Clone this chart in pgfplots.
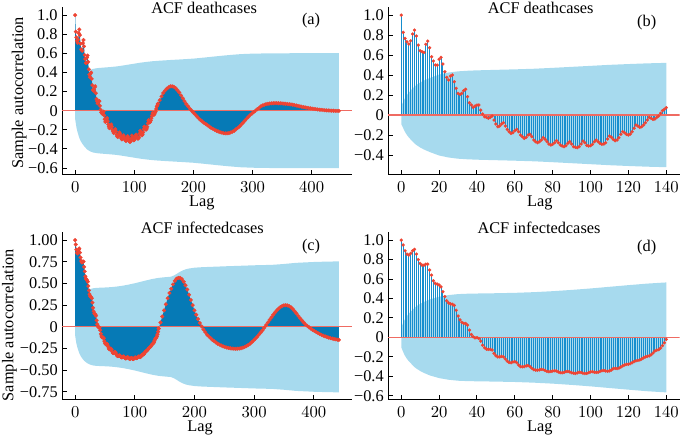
\documentclass[border=0pt]{standalone}
\usepackage{fontspec}
\setmainfont{Liberation Serif}
\usepackage{pgfplots}
\usepackage{pgfplotstable}
\pgfplotsset{compat=1.18}
\definecolor{bandc}{RGB}{167,218,238}
\definecolor{stemc}{RGB}{22,142,206}
\definecolor{darkc}{RGB}{6,122,182}
\definecolor{mkc}{RGB}{238,68,51}
\definecolor{zeroc}{RGB}{239,107,98}

\pgfplotstableread[row sep=\\]{lag acf\\
0 1.0\\1 0.827\\2 0.767\\3 0.733\\4 0.71\\5 0.743\\6 0.81\\7 0.85\\8 0.79\\9 0.70\\10 0.643\\11 0.633\\12 0.627\\13 0.707\\14 0.74\\15 0.673\\16 0.583\\17 0.54\\18 0.50\\19 0.50\\20 0.557\\21 0.577\\22 0.51\\23 0.433\\24 0.377\\25 0.35\\26 0.39\\27 0.40\\28 0.333\\29 0.267\\30 0.217\\31 0.207\\32 0.217\\33 0.243\\34 0.257\\35 0.183\\36 0.123\\37 0.10\\38 0.077\\39 0.09\\40 0.10\\41 0.10\\42 0.05\\43 0.01\\44 -0.017\\45 -0.023\\46 -0.033\\47 -0.023\\48 -0.01\\49 -0.05\\50 -0.09\\51 -0.117\\52 -0.11\\53 -0.09\\54 -0.077\\55 -0.11\\56 -0.143\\57 -0.167\\58 -0.183\\59 -0.177\\60 -0.157\\61 -0.143\\62 -0.167\\63 -0.2\\64 -0.217\\65 -0.233\\66 -0.223\\67 -0.2\\68 -0.193\\69 -0.217\\70 -0.25\\71 -0.267\\72 -0.277\\73 -0.267\\74 -0.25\\75 -0.227\\76 -0.243\\77 -0.267\\78 -0.29\\79 -0.30\\80 -0.293\\81 -0.277\\82 -0.257\\83 -0.277\\84 -0.30\\85 -0.31\\86 -0.317\\87 -0.307\\88 -0.283\\89 -0.267\\90 -0.29\\91 -0.317\\92 -0.323\\93 -0.327\\94 -0.317\\95 -0.29\\96 -0.26\\97 -0.277\\98 -0.303\\99 -0.31\\100 -0.307\\101 -0.293\\102 -0.267\\103 -0.25\\104 -0.267\\105 -0.283\\106 -0.293\\107 -0.29\\108 -0.277\\109 -0.24\\110 -0.21\\111 -0.223\\112 -0.243\\113 -0.257\\114 -0.25\\115 -0.227\\116 -0.193\\117 -0.167\\118 -0.177\\119 -0.193\\120 -0.2\\121 -0.19\\122 -0.167\\123 -0.133\\124 -0.10\\125 -0.11\\126 -0.123\\127 -0.117\\128 -0.10\\129 -0.077\\130 -0.05\\131 -0.023\\132 -0.033\\133 -0.043\\134 -0.04\\135 -0.023\\136 -0.01\\137 0.017\\138 0.043\\139 0.057\\140 0.073\\
}\deathA

\pgfplotstableread[row sep=\\]{lag acf\\
140 0.073\\143 0.11\\146 0.15\\149 0.185\\152 0.21\\155 0.23\\158 0.245\\161 0.255\\164 0.255\\167 0.25\\170 0.235\\173 0.215\\176 0.19\\179 0.16\\182 0.13\\185 0.10\\188 0.07\\191 0.045\\194 0.02\\197 0.0\\200 -0.02\\203 -0.04\\206 -0.06\\209 -0.08\\212 -0.097\\215 -0.113\\218 -0.128\\221 -0.14\\224 -0.153\\227 -0.167\\230 -0.18\\233 -0.19\\236 -0.2\\239 -0.21\\242 -0.218\\245 -0.225\\248 -0.23\\251 -0.235\\254 -0.237\\257 -0.237\\260 -0.235\\263 -0.228\\266 -0.22\\269 -0.21\\272 -0.195\\275 -0.18\\278 -0.165\\281 -0.145\\284 -0.125\\287 -0.105\\290 -0.085\\293 -0.065\\296 -0.045\\299 -0.03\\302 -0.015\\305 0.0\\308 0.015\\311 0.03\\314 0.045\\317 0.055\\320 0.062\\323 0.068\\326 0.072\\329 0.075\\332 0.077\\335 0.078\\338 0.079\\341 0.079\\344 0.078\\347 0.077\\350 0.076\\353 0.074\\356 0.072\\359 0.07\\362 0.068\\365 0.065\\368 0.062\\371 0.058\\374 0.054\\377 0.05\\380 0.046\\383 0.042\\386 0.038\\389 0.034\\392 0.031\\395 0.028\\398 0.025\\401 0.022\\404 0.019\\407 0.016\\410 0.013\\413 0.011\\416 0.009\\419 0.007\\422 0.005\\425 0.003\\428 0.002\\431 0.001\\434 0.0\\437 -0.001\\440 -0.002\\443 -0.002\\446 -0.002\\
}\deathB

\pgfplotstableread[row sep=\\]{lag acf\\
0 1.0\\1 0.95\\2 0.89\\3 0.856\\4 0.846\\5 0.863\\6 0.89\\7 0.904\\8 0.856\\9 0.80\\10 0.76\\11 0.743\\12 0.743\\13 0.753\\14 0.753\\15 0.692\\16 0.64\\17 0.582\\18 0.555\\19 0.548\\20 0.538\\21 0.52\\22 0.47\\23 0.42\\24 0.377\\25 0.355\\26 0.345\\27 0.34\\28 0.33\\29 0.28\\30 0.22\\31 0.18\\32 0.155\\33 0.145\\34 0.144\\35 0.127\\36 0.075\\37 0.03\\38 0.007\\39 -0.005\\40 -0.003\\41 -0.01\\42 -0.038\\43 -0.08\\44 -0.106\\45 -0.12\\46 -0.123\\47 -0.123\\48 -0.13\\49 -0.164\\50 -0.188\\51 -0.2\\52 -0.2\\53 -0.195\\54 -0.2\\55 -0.223\\56 -0.243\\57 -0.257\\58 -0.26\\59 -0.252\\60 -0.25\\61 -0.26\\62 -0.284\\63 -0.3\\64 -0.302\\65 -0.3\\66 -0.292\\67 -0.29\\68 -0.3\\69 -0.318\\70 -0.33\\71 -0.336\\72 -0.336\\73 -0.333\\74 -0.328\\75 -0.33\\76 -0.34\\77 -0.35\\78 -0.352\\79 -0.35\\80 -0.345\\81 -0.342\\82 -0.345\\83 -0.355\\84 -0.362\\85 -0.364\\86 -0.36\\87 -0.352\\88 -0.35\\89 -0.355\\90 -0.363\\91 -0.368\\92 -0.37\\93 -0.365\\94 -0.358\\95 -0.36\\96 -0.368\\97 -0.372\\98 -0.37\\99 -0.362\\100 -0.354\\101 -0.352\\102 -0.358\\103 -0.36\\104 -0.358\\105 -0.35\\106 -0.342\\107 -0.34\\108 -0.345\\109 -0.348\\110 -0.344\\111 -0.335\\112 -0.32\\113 -0.318\\114 -0.32\\115 -0.315\\116 -0.305\\117 -0.293\\118 -0.283\\119 -0.278\\120 -0.276\\121 -0.27\\122 -0.26\\123 -0.248\\124 -0.24\\125 -0.236\\126 -0.232\\127 -0.222\\128 -0.21\\129 -0.2\\130 -0.195\\131 -0.19\\132 -0.178\\133 -0.16\\134 -0.14\\135 -0.13\\136 -0.125\\137 -0.11\\138 -0.085\\139 -0.055\\140 -0.02\\
}\infA

\pgfplotstableread[row sep=\\]{lag acf\\
140 -0.02\\143 0.05\\146 0.12\\149 0.19\\152 0.26\\155 0.33\\158 0.39\\161 0.44\\164 0.49\\167 0.53\\170 0.555\\173 0.565\\176 0.565\\179 0.55\\182 0.52\\185 0.48\\188 0.43\\191 0.37\\194 0.31\\197 0.25\\200 0.19\\203 0.14\\206 0.09\\209 0.045\\212 0.005\\215 -0.03\\218 -0.06\\221 -0.09\\224 -0.11\\227 -0.13\\230 -0.15\\233 -0.165\\236 -0.18\\239 -0.195\\242 -0.205\\245 -0.215\\248 -0.225\\251 -0.232\\254 -0.238\\257 -0.243\\260 -0.247\\263 -0.25\\266 -0.252\\269 -0.253\\272 -0.252\\275 -0.25\\278 -0.246\\281 -0.24\\284 -0.232\\287 -0.222\\290 -0.21\\293 -0.195\\296 -0.178\\299 -0.158\\302 -0.137\\305 -0.115\\308 -0.09\\311 -0.065\\314 -0.04\\317 -0.01\\320 0.02\\323 0.05\\326 0.08\\329 0.11\\332 0.14\\335 0.165\\338 0.19\\341 0.21\\344 0.228\\347 0.24\\350 0.248\\353 0.25\\356 0.247\\359 0.238\\362 0.225\\365 0.205\\368 0.18\\371 0.155\\374 0.127\\377 0.10\\380 0.075\\383 0.052\\386 0.03\\389 0.012\\392 -0.005\\395 -0.02\\398 -0.035\\401 -0.048\\404 -0.06\\407 -0.072\\410 -0.083\\413 -0.093\\416 -0.102\\419 -0.11\\422 -0.117\\425 -0.124\\428 -0.13\\431 -0.135\\434 -0.14\\437 -0.144\\440 -0.148\\442 -0.15\\
}\infB

\pgfplotstableread[row sep=\\]{lag hw\\
0 0.09\\1 0.13\\2 0.17\\3 0.2\\4 0.225\\5 0.245\\6 0.265\\7 0.285\\8 0.3\\10 0.325\\12 0.345\\15 0.37\\20 0.405\\25 0.425\\30 0.437\\35 0.443\\40 0.447\\50 0.452\\60 0.457\\70 0.463\\80 0.472\\90 0.482\\100 0.492\\110 0.502\\120 0.51\\130 0.517\\140 0.522\\160 0.53\\180 0.537\\200 0.545\\220 0.557\\240 0.57\\260 0.582\\280 0.592\\300 0.597\\330 0.6\\360 0.601\\400 0.602\\446 0.602\\
}\bandD

\pgfplotstableread[row sep=\\]{lag hw\\
0 0.1\\1 0.15\\2 0.19\\3 0.22\\4 0.245\\5 0.265\\6 0.285\\7 0.305\\8 0.32\\10 0.345\\12 0.365\\15 0.39\\20 0.418\\25 0.435\\30 0.445\\35 0.449\\40 0.451\\50 0.454\\60 0.458\\70 0.465\\80 0.475\\90 0.488\\100 0.503\\110 0.52\\120 0.537\\130 0.553\\140 0.565\\150 0.572\\160 0.578\\165 0.59\\170 0.61\\175 0.632\\180 0.65\\185 0.663\\190 0.672\\200 0.682\\210 0.687\\220 0.69\\250 0.698\\280 0.705\\300 0.71\\330 0.715\\350 0.725\\370 0.738\\400 0.748\\420 0.752\\442 0.755\\
}\bandI

\pgfplotsset{
  acf/.style={
    scale only axis, axis lines*=left, tick align=inside,
    major tick length=2.7pt,
    axis line style={line width=0.6pt, black},
    every tick/.style={black, line width=0.6pt},
    enlargelimits=false, clip=true,
    every axis title shift=0pt,
    yticklabel style={inner sep=0pt, anchor=east, xshift=-2.4pt},
    xticklabel style={inner sep=0pt, anchor=base, yshift=-10.8pt},
    xlabel={Lag},
  },
  bandup/.style={fill=bandc, draw=none, forget plot, no markers},
  zl/.style={draw=zeroc, line width=0.7pt, no markers, forget plot},
  mk/.style={only marks, mark=*, color=mkc, mark options={fill=mkc, draw=mkc, line width=0.2pt}, forget plot},
}

\begin{document}
\fontsize{9.8}{11.5}\selectfont
\begin{tikzpicture}
\useasboundingbox (0,0) rectangle (411pt,261pt);

% (a)
\begin{axis}[acf, at={(37.2pt,156pt)}, anchor=south west,
  width=174pt, height=100.5pt,
  xmin=-22.3, xmax=468.3, ymin=-0.673, ymax=1.08,
  xtick={0,100,200,300,400},
  ytick={-0.6,-0.4,-0.2,0,0.2,0.4,0.6,0.8,1.0},
  yticklabels={−0.6,−0.4,−0.2,0,0.2,0.4,0.6,0.8,1.0},
  ylabel={Sample autocorrelation},
  ylabel style={at={(axis description cs:-0.148,0.49)}, anchor=center},
  xlabel style={at={(axis description cs:0.482,-0.188)}, anchor=base},
  title={ACF deathcases},
  title style={at={(axis description cs:0.49,0.965)}, anchor=base},
]
\addplot[bandup] table[x=lag, y=hw] {\bandD} \closedcycle;
\addplot[bandup] table[x=lag, y expr=-\thisrow{hw}] {\bandD} \closedcycle;
\addplot[fill=darkc, draw=none, forget plot, no markers] table[x=lag, y=acf] {\deathA} \closedcycle;
\addplot[fill=darkc, draw=none, forget plot, no markers] table[x=lag, y=acf] {\deathB} \closedcycle;
\addplot[zl] coordinates {(-22.3,0) (468.3,0)};
\addplot[mk, mark size=1.1pt] table[x=lag, y=acf] {\deathA};
\addplot[mk, mark size=1.1pt] table[x=lag, y=acf] {\deathB};
\node[font=\fontsize{9.8}{11.5}\selectfont] at (rel axis cs:0.859,0.919) {(a)};
\end{axis}

% (b)
\begin{axis}[acf, at={(232.8pt,156pt)}, anchor=south west,
  width=174.9pt, height=100.5pt,
  xmin=-7, xmax=147, ymin=-0.6, ymax=1.076,
  xtick={0,20,40,60,80,100,120,140},
  ytick={-0.4,-0.2,0,0.2,0.4,0.6,0.8,1.0},
  yticklabels={−0.4,−0.2,0,0.2,0.4,0.6,0.8,1.0},
  xlabel style={at={(axis description cs:0.521,-0.188)}, anchor=base},
  title={ACF deathcases},
  title style={at={(axis description cs:0.524,0.965)}, anchor=base},
]
\addplot[bandup, restrict x to domain=0:140] table[x=lag, y=hw] {\bandD} \closedcycle;
\addplot[bandup, restrict x to domain=0:140] table[x=lag, y expr=-\thisrow{hw}] {\bandD} \closedcycle;
\addplot[ycomb, draw=stemc, line width=0.6pt, no markers, forget plot] table[x=lag, y=acf] {\deathA};
\addplot[zl] coordinates {(-7,0) (147,0)};
\addplot[mk, mark size=0.9pt] table[x=lag, y=acf] {\deathA};
\node[font=\fontsize{9.8}{11.5}\selectfont] at (rel axis cs:0.8875,0.91) {(b)};
\end{axis}

% (c)
\begin{axis}[acf, at={(37.2pt,21pt)}, anchor=south west,
  width=174pt, height=100.5pt,
  xmin=-22.1, xmax=464.1, ymin=-0.843, ymax=1.088,
  xtick={0,100,200,300,400},
  ytick={-0.75,-0.5,-0.25,0,0.25,0.5,0.75,1.0},
  yticklabels={−0.75,−0.50,−0.25,0,0.25,0.50,0.75,1.00},
  ylabel={Sample autocorrelation},
  ylabel style={at={(axis description cs:-0.181,0.447)}, anchor=center},
  xlabel style={at={(axis description cs:0.476,-0.188)}, anchor=base},
  title={ACF infectedcases},
  title style={at={(axis description cs:0.484,0.995)}, anchor=base},
]
\addplot[bandup] table[x=lag, y=hw] {\bandI} \closedcycle;
\addplot[bandup] table[x=lag, y expr=-\thisrow{hw}] {\bandI} \closedcycle;
\addplot[fill=darkc, draw=none, forget plot, no markers] table[x=lag, y=acf] {\infA} \closedcycle;
\addplot[fill=darkc, draw=none, forget plot, no markers] table[x=lag, y=acf] {\infB} \closedcycle;
\addplot[zl] coordinates {(-22.1,0) (464.1,0)};
\addplot[mk, mark size=1.1pt] table[x=lag, y=acf] {\infA};
\addplot[mk, mark size=1.1pt] table[x=lag, y=acf] {\infB};
\node[font=\fontsize{9.8}{11.5}\selectfont] at (rel axis cs:0.859,0.913) {(c)};
\end{axis}

% (d)
\begin{axis}[acf, at={(232.8pt,21pt)}, anchor=south west,
  width=174.9pt, height=100.5pt,
  xmin=-7, xmax=147, ymin=-0.643, ymax=1.078,
  xtick={0,20,40,60,80,100,120,140},
  ytick={-0.6,-0.4,-0.2,0,0.2,0.4,0.6,0.8,1.0},
  yticklabels={−0.6,−0.4,−0.2,0,0.2,0.4,0.6,0.8,1.0},
  xlabel style={at={(axis description cs:0.521,-0.188)}, anchor=base},
  title={ACF infectedcases},
  title style={at={(axis description cs:0.518,0.995)}, anchor=base},
]
\addplot[bandup, restrict x to domain=0:140] table[x=lag, y=hw] {\bandI} \closedcycle;
\addplot[bandup, restrict x to domain=0:140] table[x=lag, y expr=-\thisrow{hw}] {\bandI} \closedcycle;
\addplot[ycomb, draw=stemc, line width=0.6pt, no markers, forget plot] table[x=lag, y=acf] {\infA};
\addplot[zl] coordinates {(-7,0) (147,0)};
\addplot[mk, mark size=0.9pt] table[x=lag, y=acf] {\infA};
\node[font=\fontsize{9.8}{11.5}\selectfont] at (rel axis cs:0.8875,0.91) {(d)};
\end{axis}
\end{tikzpicture}
\end{document}
